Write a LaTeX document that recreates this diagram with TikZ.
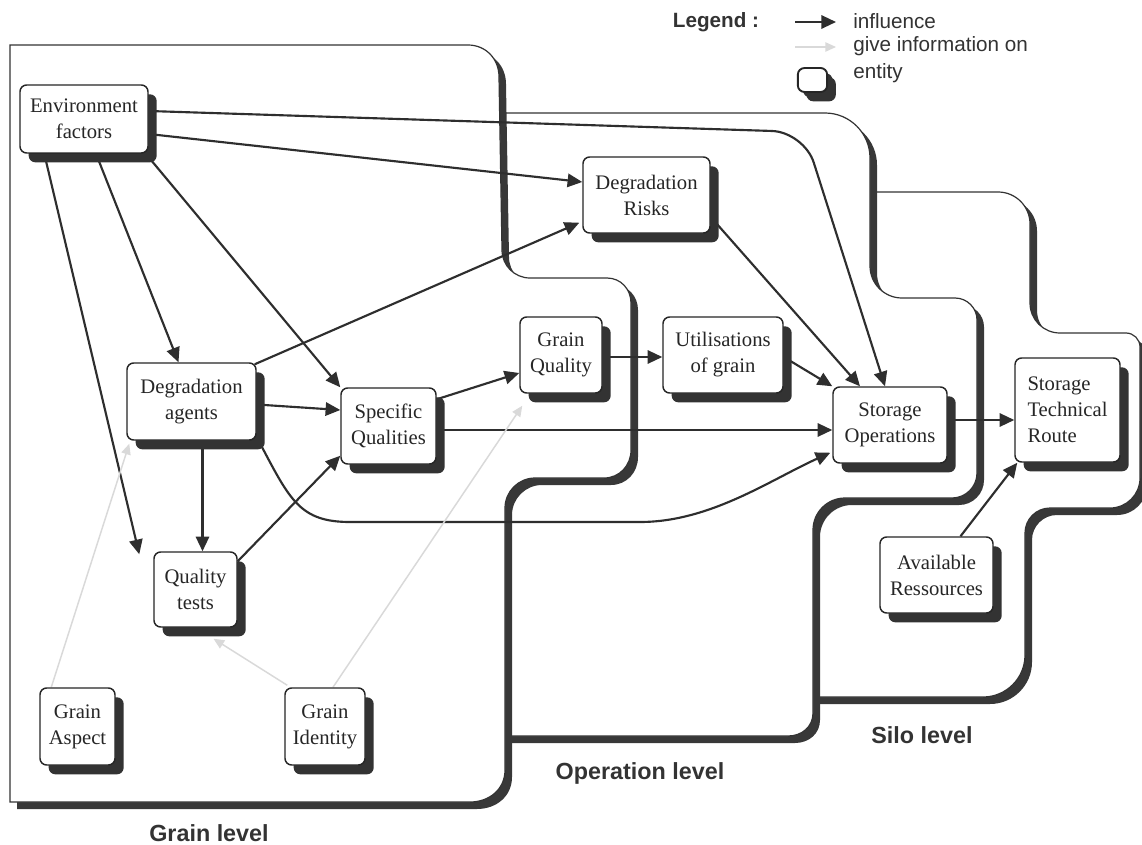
\documentclass[tikz,border=0pt]{standalone}
\usepackage{fontspec}
\setmainfont{Liberation Serif}
\newfontfamily\lsans{Liberation Sans}
\usetikzlibrary{shadows,arrows.meta,calc}
\pgfdeclarelayer{bg}
\pgfdeclarelayer{edges}
\pgfsetlayers{bg,edges,main}

\def\grainP{(10,45) -- (468,45) .. controls (485.5,45) and (499,58.5) .. (499,77) -- (502,250) .. controls (502,265.5) and (514.5,278) .. (530,278) -- (607,278) .. controls (620.8,278) and (631,289.2) .. (631,303) -- (631,450) .. controls (631,465.5) and (619.5,478) .. (604,478) -- (535,478) .. controls (518.5,478) and (505,491.5) .. (505,508) -- (505,770) .. controls (505,789.3) and (489.3,802) .. (470,802) -- (10,802) -- cycle}
\def\opP{(470,113) -- (825,113) .. controls (849.8,113) and (870,133.2) .. (870,158) -- (870,266) .. controls (870,283.7) and (884.3,298) .. (902,298) -- (955,298) .. controls (967.1,298) and (977,307.9) .. (977,320) -- (977,473) .. controls (977,486.8) and (965.8,498) .. (952,498) -- (845,498) .. controls (827.3,498) and (813,512.3) .. (813,530) -- (813,713) .. controls (813,726.8) and (801.8,736) .. (788,736) -- (470,736) -- cycle}
\def\siloP{(760,192) -- (998,192) .. controls (1015.7,192) and (1030,206.3) .. (1030,224) -- (1030,303) .. controls (1030,319.6) and (1043.4,333) .. (1060,333) -- (1126,333) .. controls (1133.7,333) and (1140,339.3) .. (1140,347) -- (1140,478) .. controls (1140,494.6) and (1126.6,508) .. (1110,508) -- (1050,508) .. controls (1036.2,508) and (1025,519.2) .. (1025,533) -- (1025,655) .. controls (1025,678.2) and (1006.2,697) .. (983,697) -- (760,697) -- cycle}

\tikzset{
  ent/.style={draw=black!85, line width=1.1pt, fill=white, rounded corners=5pt,
    align=center, inner sep=1pt, font=\fontsize{15.5}{19.5}\selectfont, text=black!85,
    general shadow={fill=black!80, shadow xshift=6.5pt, shadow yshift=-7pt}},
  infl/.style={draw=black!82, line width=1.6pt, -{Triangle[length=11pt,width=10pt]}},
  ginfo/.style={draw=black!15, line width=1.1pt, -{Triangle[length=8pt,width=7pt]}},
  regfill/.style={fill=white, draw=black!80, line width=0.9pt},
  regshadow/.style={fill=black!78},
  lvl/.style={font=\lsans\bfseries\fontsize{17.5}{21}\selectfont, text=black!80},
  legtext/.style={font=\lsans\fontsize{15.5}{19}\selectfont, text=black!80, anchor=west, inner sep=0pt},
}

\begin{document}
\begin{tikzpicture}[x=0.75pt,y=-0.75pt]
\useasboundingbox (0,0) rectangle (1142,845);

% background and regions
\begin{pgfonlayer}{bg}
  \fill[white] (0,0) rectangle (1142,845);
  \fill[regshadow, shift={(7,7)}] \siloP;
  \filldraw[regfill] \siloP;
  \fill[regshadow, shift={(7,7)}] \opP;
  \filldraw[regfill] \opP;
  \fill[regshadow, shift={(7,7)}] \grainP;
  \filldraw[regfill] \grainP;
\end{pgfonlayer}

% entities
\node[ent, minimum width=96pt, minimum height=51pt] (env) at (84,119) {Environment\\factors};
\node[ent, minimum width=95.25pt, minimum height=57pt] (dr) at (646.5,195) {Degradation\\Risks};
\node[ent, minimum width=61.5pt, minimum height=57pt] (gq) at (561,355) {Grain\\Quality};
\node[ent, minimum width=90pt, minimum height=57pt] (ug) at (723,355) {Utilisations\\of grain};
\node[ent, minimum width=96.75pt, minimum height=57.75pt] (da) at (191.5,401.5) {Degradation\\agents};
\node[ent, minimum width=71.25pt, minimum height=57pt] (sq) at (388.5,426) {Specific\\Qualities};
\node[ent, minimum width=85.5pt, minimum height=57pt] (so) at (890,425) {Storage\\Operations};
\node[ent, align=left, minimum width=78.75pt, minimum height=78pt] (str) at (1067.5,410) {Storage\\Technical\\Route};
\node[ent, minimum width=62.25pt, minimum height=56.25pt] (qt) at (195.5,589.5) {Quality\\tests};
\node[ent, minimum width=84.75pt, minimum height=57pt] (ar) at (936.5,575) {Available\\Ressources};
\node[ent, minimum width=56.25pt, minimum height=57.75pt] (ga) at (77.5,726.5) {Grain\\Aspect};
\node[ent, minimum width=60pt, minimum height=57.75pt] (gi) at (325,726.5) {Grain\\Identity};

% connectors
\begin{pgfonlayer}{edges}
  \draw[infl, rounded corners=24pt] ($(env.east)+(0,-8)$) -- (804,132) -- ($(so.north)+(-5,0)$);
  \draw[infl] ($(env.east)+(0,15)$) -- ($(dr.west)+(0,-13)$);
  \draw[infl] ($(env.south)+(12,0)$) -- ($(da.north)+(-13,0)$);
  \draw[infl] ($(env.south east)+(-3,0)$) -- (sq.north west);
  \draw[infl] ($(env.south west)+(25,0)$) -- ($(qt.north west)+(-14,3)$);
  \draw[infl] ($(da.north east)+(-2,2)$) -- ($(dr.south west)+(-3,-11)$);
  \draw[infl] ($(da.east)+(0,3)$) -- ($(sq.west)+(0,-16)$);
  \draw[infl] ($(da.south)+(11,0)$) -- ($(qt.north)+(7,0)$);
  \draw[infl] ($(da.south east)+(4,4)$) .. controls (290,500) and (300,522) .. (350,522)
     -- (640,522) .. controls (710,522) and (770,480) .. ($(so.south west)+(-2,-11)$);
  \draw[infl] ($(qt.north east)+(0,10)$) -- ($(sq.south west)+(0,-9)$);
  \draw[infl] ($(sq.north east)+(0,12)$) -- ($(gq.west)+(0,18)$);
  \draw[infl] ($(sq.east)+(0,4)$) -- ($(so.west)+(0,5)$);
  \draw[infl] ($(gq.east)+(0,2)$) -- ($(ug.west)+(0,2)$);
  \draw[infl] ($(ug.east)+(0,2)$) -- (so.north west);
  \draw[infl] ($(dr.east)+(0,22)$) -- ($(so.north)+(-30,0)$);
  \draw[infl] ($(so.east)+(0,-5)$) -- ($(str.west)+(0,10)$);
  \draw[infl] ($(ar.north)+(24,0)$) -- ($(str.south west)+(3,0)$);
  \draw[ginfo] ($(ga.north west)+(12,0)$) -- ($(da.south west)+(3,3)$);
  \draw[ginfo] ($(gi.north west)+(3,-2)$) -- ($(qt.south)+(18,11)$);
  \draw[ginfo] ($(gi.north)+(8,0)$) -- ($(gq.south west)+(3,12)$);
\end{pgfonlayer}

% level labels
\node[lvl] (lgrain) at (209,833) {Grain level};
\node[lvl] (lop) at (640,773) {Operation level};
\node[lvl] (lsilo) at (922,735) {Silo level};

% legend
\node[font=\lsans\bfseries\fontsize{15.5}{19}\selectfont, text=black!80] (leg) at (716,22) {Legend :};
\coordinate (la1) at (795,22);
\coordinate (la2) at (836,22);
\coordinate (lb1) at (795,47);
\coordinate (lb2) at (836,47);
\draw[infl] (la1) -- (la2);
\draw[ginfo] (lb1) -- (lb2);
\node[legtext] (lt1) at (853,21) {influence};
\node[legtext] (lt2) at (853,46) {give information on};
\node[ent, minimum width=22pt, minimum height=18pt, inner sep=0pt, line width=1.4pt,
      general shadow={fill=black!80, shadow xshift=4pt, shadow yshift=-4pt}] (legbox) at (812.5,80) {};
\node[legtext] (lt3) at (853,73) {entity};
\end{tikzpicture}
\end{document}
